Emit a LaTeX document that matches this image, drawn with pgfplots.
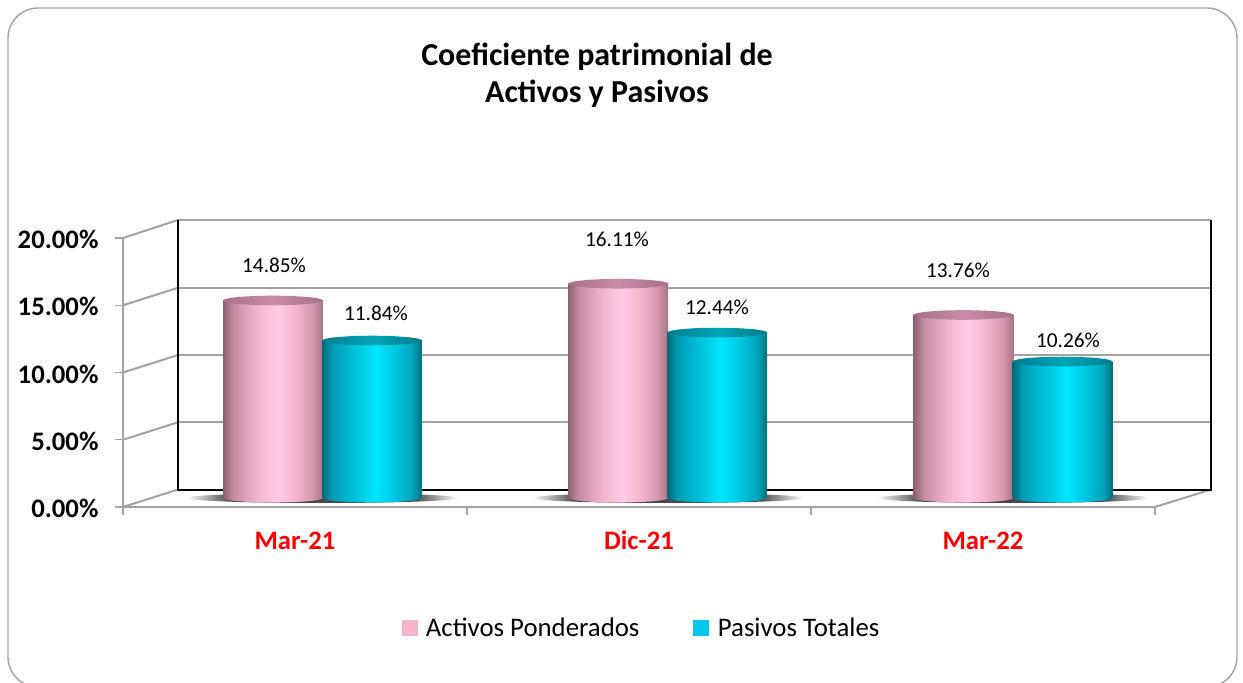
\documentclass[border=0pt]{standalone}
\usepackage{fontspec}
\setmainfont{Carlito}
\usepackage{pgfplots}
\pgfplotsset{compat=1.18}
\definecolor{gridg}{HTML}{A3A3A3}
\definecolor{legpink}{HTML}{F5B3CC}
\definecolor{legblue}{HTML}{00C8EB}
\definecolor{pa}{HTML}{8F6072}
\definecolor{pb}{HTML}{C48CA3}
\definecolor{pc}{HTML}{F3B4CE}
\definecolor{pd}{HTML}{FFCCE6}
\definecolor{pe}{HTML}{F8B8D3}
\definecolor{pf}{HTML}{D495AD}
\definecolor{pg}{HTML}{A57488}
\definecolor{ba}{HTML}{006A78}
\definecolor{bb}{HTML}{009DB4}
\definecolor{bc}{HTML}{00C4DD}
\definecolor{bd}{HTML}{00E6FF}
\definecolor{be}{HTML}{00CCE6}
\definecolor{bf}{HTML}{00A5BB}
\definecolor{bg}{HTML}{00707F}
\definecolor{sh}{HTML}{4A4A4A}
\definecolor{pta}{HTML}{A87088}
\definecolor{ptb}{HTML}{C98CA6}
\definecolor{bta}{HTML}{007D8E}
\definecolor{btb}{HTML}{00A5B8}
\pgfdeclarehorizontalshading{pinkbar}{100bp}{
 color(0bp)=(pa);
 color(25bp)=(pa);
 color(30bp)=(pb);
 color(42bp)=(pc);
 color(52bp)=(pd);
 color(60bp)=(pe);
 color(70bp)=(pf);
 color(75bp)=(pg);
 color(100bp)=(pg)}
\pgfdeclarehorizontalshading{bluebar}{100bp}{
 color(0bp)=(ba);
 color(25bp)=(ba);
 color(30bp)=(bb);
 color(42bp)=(bc);
 color(52bp)=(bd);
 color(60bp)=(be);
 color(70bp)=(bf);
 color(75bp)=(bg);
 color(100bp)=(bg)}
\pgfdeclarehorizontalshading{shadowg}{100bp}{
 color(0bp)=(white);
 color(25bp)=(white);
 color(33bp)=(sh);
 color(67bp)=(sh);
 color(75bp)=(white);
 color(100bp)=(white)}
\pgfdeclarehorizontalshading{pinktop}{100bp}{
 color(0bp)=(pta);
 color(25bp)=(pta);
 color(50bp)=(ptb);
 color(75bp)=(pta);
 color(100bp)=(pta)}
\pgfdeclarehorizontalshading{bluetop}{100bp}{
 color(0bp)=(bta);
 color(25bp)=(bta);
 color(50bp)=(btb);
 color(75bp)=(bta);
 color(100bp)=(bta)}
\newcommand{\ellmark}[4]{\pgfdeclareplotmark{#1}{%
  \pgfpathellipse{\pgfpointorigin}{\pgfqpoint{#3}{0pt}}{\pgfqpoint{0pt}{#4}}%
  \pgfshadepath{#2}{0}\pgfusepath{discard}}}
\ellmark{pinkend}{pinkbar}{49.8pt}{4.5pt}
\ellmark{blueend}{bluebar}{49.8pt}{4.5pt}
\ellmark{pinkcap}{pinktop}{49.8pt}{4.8pt}
\ellmark{bluecap}{bluetop}{49.8pt}{4.8pt}
\ellmark{shadowm}{shadowg}{136pt}{5pt}
\begin{document}
\begin{tikzpicture}[x=1pt,y=1pt]
\useasboundingbox (0,0) rectangle (1243,683);
\fill[white] (0,0) rectangle (1243,683);
\begin{scope}
\clip (0,0) rectangle (1243,683);
\draw[gridg,line width=1.4pt,rounded corners=30pt] (8,-4) rectangle (1237,675);
\end{scope}
\node[align=center,inner sep=0pt,font=\fontsize{32}{37}\selectfont\bfseries] at (597,607.5) {Coeficiente patrimonial de\\Activos y Pasivos};
% frame, walls and tick labels
\begin{axis}[
  at={(123pt,176pt)},anchor=south west,
  scale only axis,width=1032pt,height=269pt,
  xmin=0,xmax=3,ymin=0,ymax=20,clip=false,
  axis x line=bottom,axis y line=left,
  axis line style={gridg,line width=2pt,-},
  tick align=outside,major tick length=8pt,
  tick style={gridg,line width=1.4pt},
  xtick={0,1,2,3},xticklabels={},
  extra x ticks={0.5,1.5,2.5},
  extra x tick labels={Mar-21,Dic-21,Mar-22},
  extra x tick style={major tick length=0pt,
    tick label style={font=\fontsize{26.7}{30}\selectfont\bfseries,text=red,text height=18pt,text depth=0pt,yshift=-21pt}},
  ytick={0,5,10,15,20},
  yticklabels={0.00\%,5.00\%,10.00\%,15.00\%,20.00\%},
  yticklabel style={font=\fontsize{26.7}{30}\selectfont\bfseries,text=black,xshift=-13pt,yshift=-1.5pt},
]
\addplot[gridg,line width=2pt] coordinates {(0,0)(0.16,1.3)};
\addplot[gridg,line width=2pt] coordinates {(0,5)(0.16,6.3)};
\addplot[gridg,line width=2pt] coordinates {(0,10)(0.16,11.3)};
\addplot[gridg,line width=2pt] coordinates {(0,15)(0.16,16.3)};
\addplot[gridg,line width=2pt] coordinates {(0,20)(0.16,21.34)};
\addplot[gridg,line width=2pt] coordinates {(3,0)(3.163,1.3)};
\addplot[gridg,line width=2pt] coordinates {(0.16,6.3)(3.163,6.3)};
\addplot[gridg,line width=2pt] coordinates {(0.16,11.3)(3.163,11.3)};
\addplot[gridg,line width=2pt] coordinates {(0.16,16.3)(3.163,16.3)};
\addplot[gridg,line width=2pt] coordinates {(0.16,21.34)(3.163,21.34)};
\addplot[black,line width=2pt] coordinates {(0.16,21.34)(0.16,1.3)(3.163,1.3)(3.163,21.34)};
\end{axis}
% floor shadows, in an axis of their own so that they lie under the bars
\begin{axis}[
  at={(149.9pt,185pt)},anchor=south west,
  scale only axis,width=1035.75pt,height=266pt,
  xmin=0,xmax=3,ymin=0,ymax=20,clip=false,hide axis,
]
\addplot[only marks,mark=shadowm] coordinates {(0.5,0)(1.5,0)(2.5,0)};
\end{axis}
% cylinders
\begin{axis}[
  at={(149.9pt,185pt)},anchor=south west,
  scale only axis,width=1035.75pt,height=266pt,
  xmin=0,xmax=3,ymin=0,ymax=20,clip=false,
  hide axis,
  legend columns=2,
  legend style={at={(0.4746,-0.4887)},anchor=center,draw=none,fill=none,
    font=\fontsize{26.8}{30}\selectfont,inner sep=0pt,
    /tikz/column 2/.style={column sep=52pt}},
  every axis plot/.append style={forget plot},
  pinkb/.style={ybar,bar width=99.6pt,bar shift=-49.5pt,draw=none,shading=pinkbar},
  blueb/.style={ybar,bar width=99.6pt,bar shift=49.5pt,draw=none,shading=bluebar},
]
% pink
\addplot[only marks,mark=pinkend,xshift=-49.5pt] coordinates {(0.5,0)(1.5,0)(2.5,0)};
\addplot[pinkb] coordinates {(0.5,14.85)};
\addplot[pinkb] coordinates {(1.5,16.11)};
\addplot[pinkb] coordinates {(2.5,13.76)};
\addplot[only marks,mark=pinkcap,xshift=-49.5pt] coordinates {(0.5,14.85)(1.5,16.11)(2.5,13.76)};
% blue
\addplot[only marks,mark=blueend,xshift=49.5pt] coordinates {(0.5,0)(1.5,0)(2.5,0)};
\addplot[blueb] coordinates {(0.5,11.84)};
\addplot[blueb] coordinates {(1.5,12.44)};
\addplot[blueb] coordinates {(2.5,10.26)};
\addplot[only marks,mark=bluecap,xshift=49.5pt] coordinates {(0.5,11.84)(1.5,12.44)(2.5,10.26)};
% value labels: x y value
\addplot[only marks,mark=none,point meta=explicit,
  nodes near coords={\pgfmathprintnumber[fixed,fixed zerofill,precision=2,assume math mode=true]{\pgfplotspointmeta}\%},
  every node near coord/.append style={anchor=center,inner sep=0pt,font=\fontsize{21.3}{25}\selectfont,text=black}]
  table[meta=v] {
x y v
0.3596 17.52 14.85
0.6549 13.91 11.84
1.3530 19.47 16.11
1.6426 14.36 12.44
2.3406 17.14 13.76
2.6593 11.88 10.26
};
\addlegendimage{legend image code/.code={\fill[legpink] (0pt,-7.5pt) rectangle (15pt,7.5pt);\path (22pt,0pt);}}
\addlegendentry{Activos Ponderados}
\addlegendimage{legend image code/.code={\fill[legblue] (0pt,-7.5pt) rectangle (15pt,7.5pt);\path (22pt,0pt);}}
\addlegendentry{Pasivos Totales}
\end{axis}
\end{tikzpicture}
\end{document}
